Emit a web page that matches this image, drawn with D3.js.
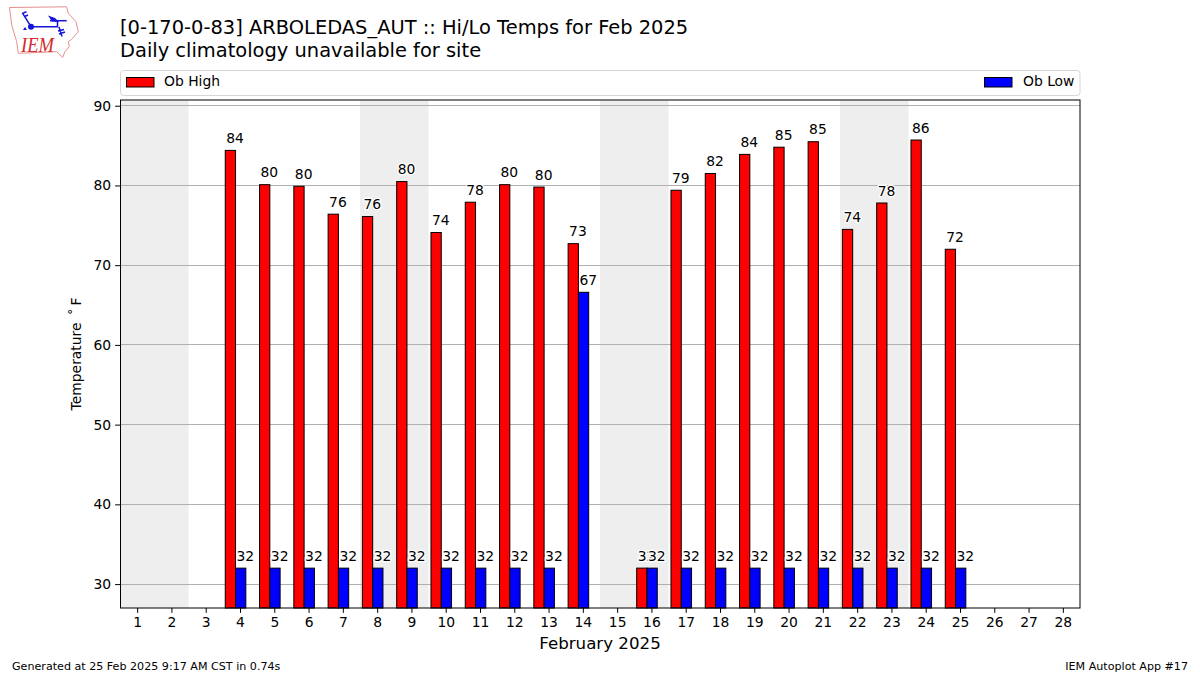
<!DOCTYPE html>
<html><head><meta charset="utf-8">
<script src="https://cdn.jsdelivr.net/npm/d3@7"></script>
<style>html,body{margin:0;padding:0;background:#fff}svg{display:block}text{font-family:"DejaVu Sans",sans-serif;fill:#000}</style>
</head><body><svg id="c" width="1200" height="675"></svg>
<script>
const days = d3.range(1, 29);
const highDays = [4,5,6,7,8,9,10,11,12,13,14,16,17,18,19,20,21,22,23,24,25];
const highs = [84.4,80.1,79.9,76.4,76.1,80.49,74.1,77.9,80.1,79.8,72.7,32,79.4,81.5,83.9,84.8,85.49,74.49,77.8,85.7,72.0];
const lows  = [32,32,32,32,32,32,32,32,32,32,66.6,32,32,32,32,32,32,32,32,32,32];
const weekends = [[1,2],[8,9],[15,16],[22,23]];
const yTicks = [30,40,50,60,70,80,90];
const titleLines = ["[0-170-0-83] ARBOLEDAS_AUT :: Hi/Lo Temps for Feb 2025","Daily climatology unavailable for site"];
const xTitle = "February 2025";
const yTitle = "Temperature\u2009 ˚\u2009F";
const footerLeft = "Generated at 25 Feb 2025 9:17 AM CST in 0.74s";
const footerRight = "IEM Autoplot App #17";

const svg = d3.select("#c");
const L=120,R=1080,T=100,B=608;
const x = d3.scaleLinear().domain([0.5,28.5]).range([L,R]);
const y = d3.scaleLinear().domain([27,90.72]).range([B,T]);
const bw = x(0.3)-x(0);

// logo
const logo = svg.append("g");
logo.append("path").attr("d","M9.5,7.5 L66.5,6.8 L68.3,13.3 L76,21.7 L78.3,31.7 L71.7,39.3 L68.3,41.7 L69.3,46.7 L65,51.7 L62.7,57.3 L56.7,51.7 L18.3,53.3 L16.7,41.7 L11.7,25 Z")
  .attr("fill","#fff").attr("stroke","#e58f8f").attr("stroke-width",1);
logo.append("g").attr("fill","none").attr("stroke","#1414d8").attr("stroke-width",1.5).call(g=>{
  g.append("path").attr("d","M31,26.7 L57.5,26.7 L57.5,21");
  g.append("path").attr("d","M31,26.7 L22.7,13.3 L26.5,11.7 M24.5,16.5 L28,15");
  g.append("path").attr("d","M50,20.7 L66.7,20.7");
  g.append("path").attr("d","M59,27 L62,36.5 M58,31 L64,29.5 M59,34 L65,32");
});
logo.append("circle").attr("cx",31).attr("cy",26.7).attr("r",3).attr("fill","#1414d8");
logo.append("path").attr("d","M48,15.5 L55,18 L59,22 L52,21.5 Z").attr("fill","#1414d8");
logo.append("path").attr("d","M23,30 L25,27 L27,30 Z").attr("fill","#1414d8");
logo.append("text").text("IEM").attr("x",21).attr("y",51.7).attr("font-size",22)
  .attr("textLength",33).attr("lengthAdjust","spacingAndGlyphs")
  .style("font-family","'Liberation Serif',serif").style("font-style","italic").style("fill","#d42a2a");

// titles
titleLines.forEach((t,i)=>svg.append("text").text(t).attr("x",120).attr("y",34+i*23).attr("font-size",19.44));

// legend frame
svg.append("rect").attr("x",120.5).attr("y",70.5).attr("width",959.5).attr("height",25).attr("rx",3)
  .attr("fill","#fff").attr("stroke","#d6d6d6");
[["Ob High","#f00",126.5,164],["Ob Low","#00f",984.5,1023]].forEach(d=>{
  svg.append("rect").attr("x",d[2]).attr("y",77.5).attr("width",27.5).attr("height",9.5).attr("fill",d[1]).attr("stroke","#000").attr("stroke-width",1);
  svg.append("text").text(d[0]).attr("x",d[3]).attr("y",85.8).attr("font-size",13.89);
});

// weekend shading
svg.append("g").selectAll("rect").data(weekends).join("rect")
  .attr("x",d=>x(d[0]-0.5)).attr("width",d=>x(d[1]+0.5)-x(d[0]-0.5))
  .attr("y",T).attr("height",B-T).attr("fill","#eeeeee");

// grid
svg.append("g").selectAll("line").data(yTicks).join("line")
  .attr("x1",L).attr("x2",R).attr("y1",d=>Math.floor(y(d))+0.5).attr("y2",d=>Math.floor(y(d))+0.5)
  .attr("stroke","#b0b0b0").attr("stroke-width",1.11);

// bars
const hiOff=-0.43, loOff=-0.13;
svg.append("g").selectAll("rect").data(highDays).join("rect")
  .attr("x",d=>x(d+hiOff)).attr("width",bw)
  .attr("y",(d,i)=>y(highs[i])).attr("height",(d,i)=>B-y(highs[i]))
  .attr("fill","#f00").attr("stroke","#000").attr("stroke-width",1);
svg.append("g").selectAll("rect").data(highDays).join("rect")
  .attr("x",d=>x(d+loOff)).attr("width",bw)
  .attr("y",(d,i)=>y(lows[i])).attr("height",(d,i)=>B-y(lows[i]))
  .attr("fill","#00f").attr("stroke","#000").attr("stroke-width",1);

// bar labels
function labels(vals,off){
  svg.append("g").selectAll("text").data(highDays).join("text")
    .text((d,i)=>Math.round(vals[i]))
    .attr("x",d=>x(d+off)+1).attr("y",(d,i)=>y(vals[i])-7.2)
    .attr("font-size",13.89)
    .attr("paint-order","stroke").attr("stroke","#fff").attr("stroke-width",2.5);
}
labels(highs,hiOff);
labels(lows,loOff);

// frame
svg.append("rect").attr("x",120.5).attr("y",T).attr("width",R-120.5).attr("height",B-T).attr("fill","none").attr("stroke","#000").attr("stroke-width",1);

// axes
const ax = svg.append("g").attr("transform",`translate(0,${B})`).call(d3.axisBottom(x).tickValues(days).tickFormat(d3.format("d")).tickSize(4.86).tickPadding(4));
const ay = svg.append("g").attr("transform",`translate(${L},0)`).call(d3.axisLeft(y).tickValues(yTicks).tickFormat(d3.format("d")).tickSize(4.86).tickPadding(4));
[ax,ay].forEach(a=>{a.select(".domain").remove();a.selectAll("text").attr("font-size",13.89).style("font-family",'"DejaVu Sans"').style("fill","#000");a.selectAll("line").attr("stroke","#000");});
ax.selectAll("text").attr("dy","0.75em");

svg.append("text").text(xTitle).attr("x",600).attr("y",649).attr("text-anchor","middle").attr("font-size",16.67);
svg.append("text").text(yTitle).attr("transform","translate(81,354) rotate(-90)").attr("text-anchor","middle").attr("font-size",13.89);
svg.append("text").text(footerLeft).attr("x",12).attr("y",670).attr("font-size",11.11);
svg.append("text").text(footerRight).attr("x",1188).attr("y",670).attr("text-anchor","end").attr("font-size",11.11);
</script></body></html>
